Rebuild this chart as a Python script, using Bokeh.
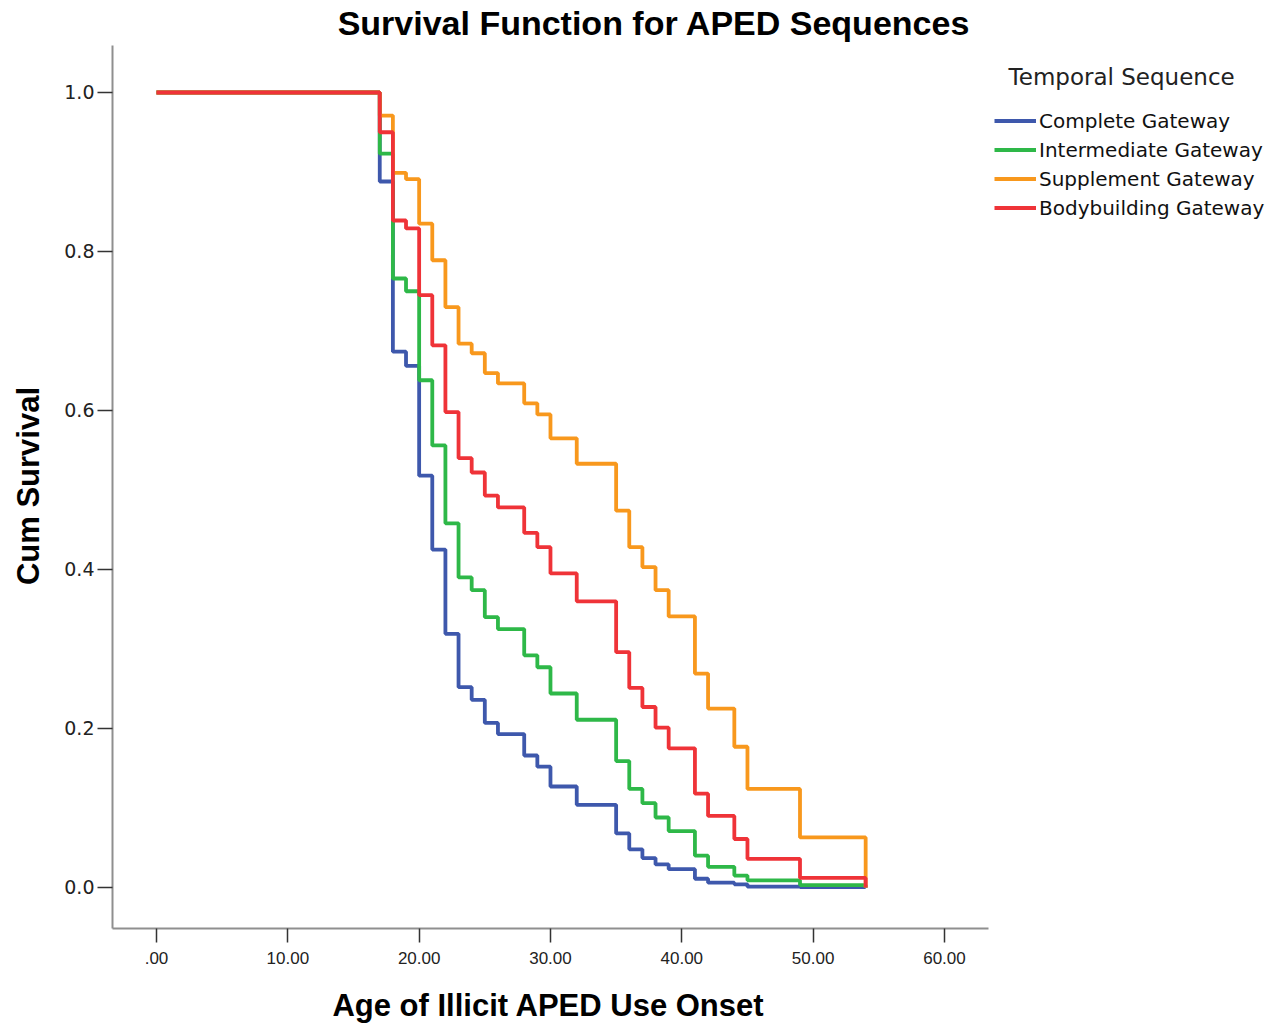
from bokeh.plotting import figure
from bokeh.models import Range1d, FixedTicker, Legend, LegendItem, Label
from bokeh.embed import file_html
from bokeh.resources import INLINE

# ---- data ----
ages = [0, 17, 18, 19, 20, 21, 22, 23, 24, 25, 26, 28, 29, 30, 32, 35, 36, 37, 38, 39, 41, 42, 44, 45, 49, 54]
complete_gw = [1.0, 0.888, 0.674, 0.656, 0.518, 0.425, 0.319, 0.252, 0.236, 0.207, 0.193, 0.166, 0.152,
               0.127, 0.104, 0.068, 0.048, 0.037, 0.029, 0.023, 0.011, 0.006, 0.004, 0.001, 0.0005, 0.0]
intermediate_gw = [1.0, 0.923, 0.766, 0.750, 0.638, 0.556, 0.458, 0.390, 0.374, 0.340, 0.325, 0.292, 0.277,
                   0.244, 0.211, 0.159, 0.124, 0.106, 0.088, 0.071, 0.040, 0.026, 0.015, 0.009, 0.003, 0.0]
supplement_gw = [1.0, 0.971, 0.899, 0.891, 0.835, 0.789, 0.730, 0.684, 0.672, 0.647, 0.634, 0.609, 0.595,
                 0.565, 0.533, 0.474, 0.428, 0.403, 0.374, 0.341, 0.269, 0.225, 0.177, 0.124, 0.063, 0.0]
bodybuilding_gw = [1.0, 0.950, 0.839, 0.829, 0.745, 0.682, 0.598, 0.540, 0.522, 0.493, 0.478, 0.446, 0.428,
                   0.395, 0.360, 0.296, 0.251, 0.227, 0.201, 0.175, 0.118, 0.090, 0.061, 0.036, 0.012, 0.0]

series_names = ["Complete Gateway", "Intermediate Gateway", "Supplement Gateway", "Bodybuilding Gateway"]
series_values = [complete_gw, intermediate_gw, supplement_gw, bodybuilding_gw]
series_colors = ["#3E58AC", "#2EB848", "#F8981D", "#EF3338"]

x_ticks = [0, 10, 20, 30, 40, 50, 60]
x_tick_labels = [".00", "10.00", "20.00", "30.00", "40.00", "50.00", "60.00"]
y_ticks = [0.0, 0.2, 0.4, 0.6, 0.8, 1.0]
title_text = "Survival Function for APED Sequences"
x_label = "Age of Illicit APED Use Onset"
y_label = "Cum Survival"
legend_title = "Temporal Sequence"

NB = "\u00a0"  # non-breaking space used to shift axis-label centres onto the drawn axis extent

# axis extents (drawn part of the axes) and the full frame ranges
X_BOUNDS = (-3.35, 63.37)
Y_BOUNDS = (-0.0516, 1.059)

W, H = 1277, 1026
p = figure(width=W, height=H, output_backend="svg", toolbar_location=None, title=None,
           x_range=Range1d(-3.35, 85.36), y_range=Range1d(-0.0516, 1.1157),
           min_border_left=112, min_border_right=0, min_border_top=0, min_border_bottom=98)
p.outline_line_color = None
p.xgrid.visible = False
p.ygrid.visible = False
p.background_fill_color = "white"
p.border_fill_color = "white"

items = []
for name, vals, col in zip(series_names, series_values, series_colors):
    r = p.step(ages, vals, mode="after", line_color=col, line_width=3.8)
    items.append(LegendItem(label=name, renderers=[r]))

# axes
for ax in (p.xaxis[0], p.yaxis[0]):
    ax.axis_line_color = "#8f8f8f"
    ax.axis_line_width = 2
    ax.major_tick_line_color = "#333333"
    ax.major_tick_line_width = 1.5
    ax.major_tick_in = 0
    ax.minor_tick_line_color = None
    ax.major_label_text_color = "#222222"
    ax.axis_label_text_color = "#000000"
    ax.axis_label_text_font = "Liberation Sans"
    ax.axis_label_text_font_style = "bold"
    ax.axis_label_text_font_size = "31px"

p.xaxis.bounds = X_BOUNDS
p.xaxis.ticker = FixedTicker(ticks=x_ticks)
p.xaxis.major_label_overrides = {t: l for t, l in zip(x_ticks, x_tick_labels)}
p.xaxis.major_tick_out = 14
p.xaxis.major_label_standoff = 9
p.xaxis.major_label_text_font = "Liberation Sans"
p.xaxis.major_label_text_font_size = "17px"
p.xaxis.axis_label = x_label + NB * 34
p.xaxis.axis_label_standoff = 21

p.yaxis.bounds = Y_BOUNDS
p.yaxis.ticker = FixedTicker(ticks=y_ticks)
p.yaxis.major_label_overrides = {t: f"{t:.1f}" for t in y_ticks}
p.yaxis.major_tick_out = 15
p.yaxis.major_label_standoff = 3
p.yaxis.major_label_text_font = "DejaVu Sans"
p.yaxis.major_label_text_font_size = "19px"
p.yaxis.axis_label = y_label + NB * 5
p.yaxis.axis_label_standoff = 15

# title (inside the extended frame, above the axes)
p.add_layout(Label(x=37.89, y=1.088, text=title_text,
                   text_font="Liberation Sans", text_font_style="bold", text_font_size="34px",
                   text_align="center", text_baseline="middle", text_color="#000000"))

legend = Legend(items=items, location=(882, 708), title=NB * 2 + legend_title,
                title_text_font="DejaVu Sans", title_text_font_size="23px",
                title_text_font_style="normal", title_text_color="#222222", title_standoff=18,
                label_text_font="DejaVu Sans", label_text_font_size="20px", label_text_color="#111111",
                glyph_width=42, glyph_height=25, label_height=25, spacing=4, label_standoff=3,
                padding=6, margin=0, border_line_color=None, background_fill_alpha=0)
p.add_layout(legend)

open("out.html", "w").write(file_html(p, INLINE))
